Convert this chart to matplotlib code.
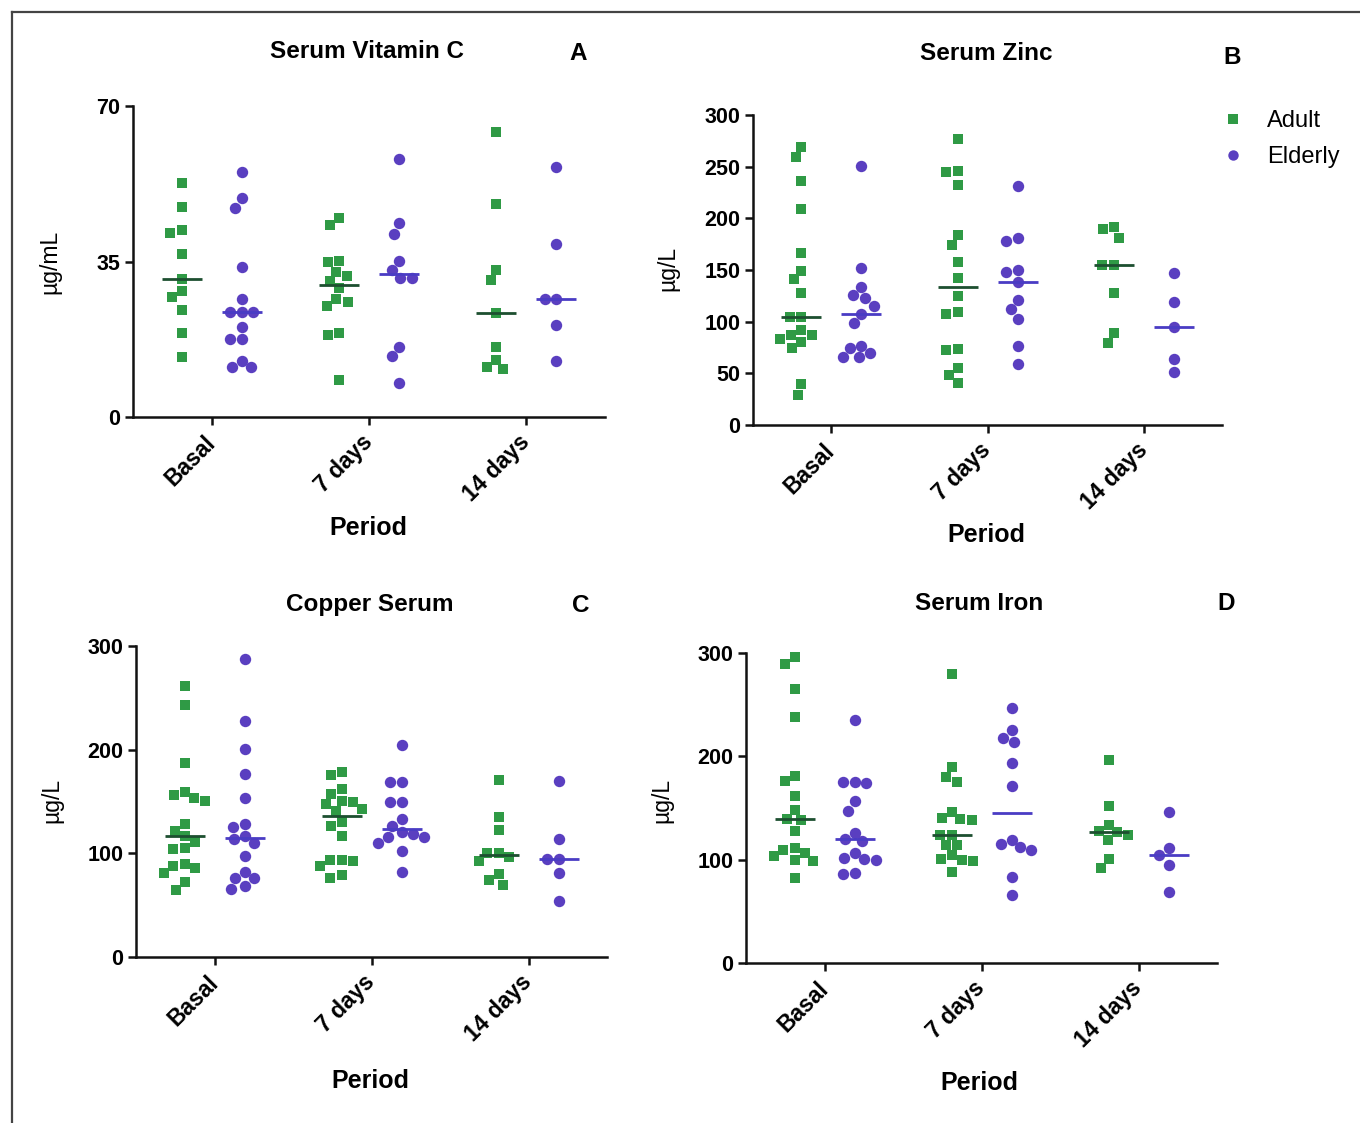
import numpy as np
import matplotlib
matplotlib.use("Agg")
import matplotlib.pyplot as plt
from matplotlib.lines import Line2D
import matplotlib.transforms as mtransforms

plt.rcParams['font.family'] = ['Liberation Sans', 'DejaVu Sans']

# ---------------- data ----------------
periods = ["Basal", "7 days", "14 days"]
groups = ["Adult", "Elderly"]

vitc_adult_basal = [52.7, 47.2, 42.1, 41.5, 36.7, 31.0, 28.4, 26.9, 24.1, 18.8, 13.4]
vitc_elderly_basal = [55.2, 49.2, 47.1, 33.8, 26.6, 23.6, 23.6, 23.6, 20.3, 17.5, 17.5, 12.7, 11.3, 11.3]
vitc_adult_7d = [44.7, 43.2, 35.2, 35.0, 32.7, 31.8, 30.5, 29.0, 26.5, 25.9, 25.0, 18.8, 18.5, 8.3]
vitc_elderly_7d = [58.0, 43.6, 41.3, 35.2, 33.1, 31.2, 31.2, 15.7, 13.7, 7.6]
vitc_adult_14d = [64.2, 47.9, 33.1, 30.8, 23.3, 15.7, 12.8, 11.3, 10.7]
vitc_elderly_14d = [56.2, 38.9, 26.6, 26.6, 20.6, 12.7]

zinc_adult_basal = [269.4, 259.7, 236.5, 208.7, 166.8, 149.4, 141.0, 128.1, 104.8, 104.8,
                    91.9, 87.1, 87.1, 82.9, 80.6, 74.2, 39.7, 29.0]
zinc_elderly_basal = [250.6, 151.6, 133.2, 125.8, 122.6, 115.5, 107.4, 99.0, 76.5, 74.2, 69.4, 65.5, 65.5]
zinc_adult_7d = [276.5, 246.1, 245.2, 232.3, 183.9, 174.2, 157.4, 141.9, 124.8, 109.7,
                 107.4, 72.9, 73.9, 55.2, 48.1, 40.6]
zinc_elderly_7d = [231.3, 180.6, 178.1, 150.0, 148.4, 138.7, 121.0, 111.9, 102.3, 76.5, 59.0]
zinc_adult_14d = [189.4, 191.3, 181.3, 154.8, 154.8, 128.1, 88.7, 79.0]
zinc_elderly_14d = [146.8, 118.7, 94.5, 63.5, 51.6]

copper_adult_basal = [261.4, 243.5, 187.3, 159.1, 155.8, 153.2, 150.9, 128.2, 121.8, 116.9,
                      111.0, 105.5, 103.9, 89.3, 87.7, 86.0, 81.2, 72.1, 64.9]
copper_elderly_basal = [287.3, 227.3, 200.3, 176.3, 153.2, 128.2, 125.6, 116.9, 113.6, 110.4,
                        97.4, 81.8, 76.3, 76.3, 68.8, 65.6]
copper_adult_7d = [178.6, 175.3, 162.3, 157.5, 150.9, 149.4, 147.7, 142.9, 141.2, 129.9,
                   126.6, 116.9, 93.5, 93.5, 92.5, 87.7, 79.5, 76.3]
copper_elderly_7d = [204.5, 168.8, 168.8, 150.0, 150.0, 133.1, 126.6, 120.1, 118.5, 116.2,
                     116.2, 110.4, 102.3, 81.8]
copper_adult_14d = [170.5, 134.7, 122.4, 100.6, 100.6, 96.8, 92.5, 80.2, 74.0, 69.8]
copper_elderly_14d = [169.5, 113.6, 94.8, 94.2, 81.2, 53.6]

iron_adult_basal = [296.1, 289.4, 265.5, 238.1, 181.3, 175.8, 161.3, 147.7, 139.4, 138.7,
                    128.1, 111.3, 109.7, 106.5, 103.2, 99.4, 98.4, 82.3]
iron_elderly_basal = [234.8, 175.2, 175.2, 174.2, 156.5, 147.4, 125.8, 120.3, 117.7, 106.5,
                      101.6, 100.6, 99.4, 87.1, 86.1]
iron_adult_7d = [280.0, 189.7, 179.7, 175.2, 146.1, 140.0, 139.0, 138.4, 124.2, 124.2,
                 114.5, 114.5, 104.8, 100.6, 100.0, 98.4, 87.7]
iron_elderly_7d = [246.8, 225.2, 217.7, 213.9, 193.5, 171.0, 119.4, 115.5, 112.3, 109.0, 83.2, 65.5]
iron_adult_14d = [196.1, 151.6, 133.9, 127.4, 126.5, 124.2, 119.4, 100.6, 91.9]
iron_elderly_14d = [146.1, 111.3, 104.8, 94.5, 68.7]

vitc_ticks = [0, 35, 70]
zinc_ticks = [0, 50, 100, 150, 200, 250, 300]
copper_ticks = [0, 100, 200, 300]
iron_ticks = [0, 100, 200, 300]

# ---------------- style ----------------
W, H = 1360, 1123
DPI = 100
GREEN = "#2f9a45"
PURPLE = "#5a3fc0"
ADULT_LINE = "#1d4f30"
ELDER_LINE = "#4a3cc4"

fig = plt.figure(figsize=(W / DPI, H / DPI), dpi=DPI)
fig.patch.set_facecolor("white")


def fx(px):
    return px / W


def fy(py):
    return 1 - py / H


def swarm_offsets(values, ypx_per_unit, D=11.5):
    vals = np.asarray(values, dtype=float)
    order = np.argsort(-vals, kind="stable")
    placed = []
    xs = np.zeros(len(vals))
    for i in order:
        y = vals[i] * ypx_per_unit
        intervals = []
        for (px, py) in placed:
            dy = abs(y - py)
            if dy < D:
                h = np.sqrt(D * D - dy * dy)
                intervals.append((px - h, px + h))
        cands = [0.0] + [a for a, b in intervals] + [b for a, b in intervals]
        cands = sorted(cands, key=lambda c: (round(abs(c), 6), c))
        chosen = 0.0
        for c in cands:
            if all(not (a + 1e-6 < c < b - 1e-6) for a, b in intervals):
                chosen = c
                break
        placed.append((chosen, y))
        xs[i] = chosen
    return xs


def panel(rect_px, title, letter, title_xy, letter_xy, period_xy, ylab_xy, ylabel,
          ticks, adult_sets, elderly_sets):
    l, t, r, b = rect_px
    ax = fig.add_axes([fx(l), fy(b), (r - l) / W, (b - t) / H])
    ax.set_xlim(-0.5, 2.5)
    ax.set_ylim(0, ticks[-1])
    xppu = (r - l) / 3.0
    yppu = (b - t) / ticks[-1]
    group_off = 30.0 / xppu
    half_line = 20.0 / xppu
    for k in range(3):
        for sets, sign, marker, col, lcol, ms in (
                (adult_sets, -1, "s", GREEN, ADULT_LINE, 7.3),
                (elderly_sets, 1, "o", PURPLE, ELDER_LINE, 8.2)):
            vals = np.asarray(sets[k])
            cx = k + sign * group_off
            offs = swarm_offsets(vals, yppu) / xppu
            ax.plot(cx + offs, vals, ls="", marker=marker, color=col, markersize=ms,
                    markeredgewidth=0, clip_on=False, zorder=3)
            med = np.median(vals)
            ax.plot([cx - half_line, cx + half_line], [med, med], color=lcol, lw=2.0,
                    zorder=4, solid_capstyle="butt")
    for s in ("top", "right"):
        ax.spines[s].set_visible(False)
    for s in ("left", "bottom"):
        ax.spines[s].set_linewidth(1.8)
        ax.spines[s].set_color("#111111")
    ax.set_yticks(ticks)
    ax.set_yticklabels([str(v) for v in ticks], fontsize=15.5, fontweight="bold")
    ax.set_xticks([0, 1, 2])
    ax.set_xticklabels(periods, fontsize=16.5, fontweight="bold", rotation=45,
                       ha="right", va="top", rotation_mode="anchor")
    ax.tick_params(axis="both", length=6, width=1.8, color="#111111", pad=3)
    ax.tick_params(axis="x", pad=4)
    off = mtransforms.ScaledTranslation(-8 / DPI, 0, fig.dpi_scale_trans)
    for lab in ax.get_xticklabels():
        lab.set_transform(lab.get_transform() + off)
    fig.text(fx(title_xy[0]), fy(title_xy[1]), title, fontsize=17.5, fontweight="bold",
             ha="center", va="center")
    fig.text(fx(letter_xy[0]), fy(letter_xy[1]), letter, fontsize=17.5, fontweight="bold",
             ha="center", va="center")
    fig.text(fx(period_xy[0]), fy(period_xy[1]), "Period", fontsize=18, fontweight="bold",
             ha="center", va="center")
    fig.text(fx(ylab_xy[0]), fy(ylab_xy[1]), ylabel, fontsize=16.5, rotation=90,
             ha="center", va="center")
    return ax


panel((133, 106, 605, 417), "Serum Vitamin C", "A", (367, 52), (578, 54), (368, 528),
      (50, 262), "µg/mL", vitc_ticks,
      [vitc_adult_basal, vitc_adult_7d, vitc_adult_14d],
      [vitc_elderly_basal, vitc_elderly_7d, vitc_elderly_14d])
panel((753, 115, 1222, 425), "Serum Zinc", "B", (986, 54), (1232, 58), (986, 535),
      (668, 268), "µg/L", zinc_ticks,
      [zinc_adult_basal, zinc_adult_7d, zinc_adult_14d],
      [zinc_elderly_basal, zinc_elderly_7d, zinc_elderly_14d])
panel((136, 646, 607, 957), "Copper Serum", "C", (370, 604), (581, 606), (370, 1081),
      (52, 800), "µg/L", copper_ticks,
      [copper_adult_basal, copper_adult_7d, copper_adult_14d],
      [copper_elderly_basal, copper_elderly_7d, copper_elderly_14d])
panel((746, 653, 1217, 963), "Serum Iron", "D", (979, 604), (1226, 604), (979, 1083),
      (662, 800), "µg/L", iron_ticks,
      [iron_adult_basal, iron_adult_7d, iron_adult_14d],
      [iron_elderly_basal, iron_elderly_7d, iron_elderly_14d])

# legend
handles = [Line2D([], [], ls="", marker="s", color=GREEN, markersize=7, markeredgewidth=0),
           Line2D([], [], ls="", marker="o", color=PURPLE, markersize=7.5, markeredgewidth=0)]
fig.legend(handles, groups, loc="upper left", bbox_to_anchor=(fx(1221), fy(110)),
           frameon=False, fontsize=17, handlelength=1.0, handletextpad=0.95,
           labelspacing=0.6, borderpad=0, borderaxespad=0)

# figure frame (top and left edges)
fig.add_artist(Line2D([fx(12), fx(1360)], [fy(12), fy(12)], color="#444444", lw=1.6))
fig.add_artist(Line2D([fx(12), fx(12)], [fy(12), fy(1123)], color="#444444", lw=1.6))

fig.savefig("out.png", dpi=DPI, facecolor="white")
